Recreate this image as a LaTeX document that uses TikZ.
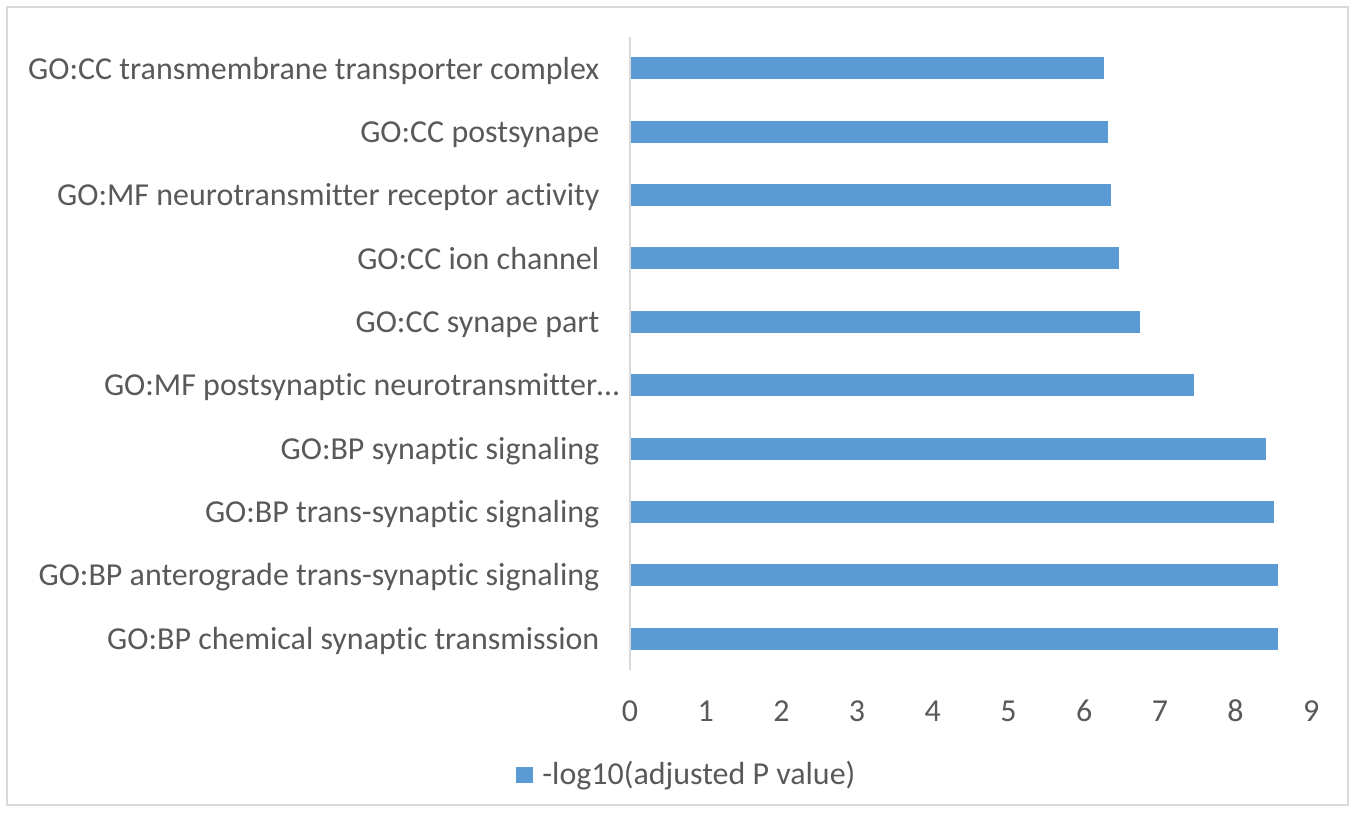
\documentclass[tikz,border=0pt]{standalone}
\usepackage{fontspec}
\setmainfont[Ligatures={NoCommon}]{Carlito}
\definecolor{barblue}{HTML}{5B9BD5}
\definecolor{labelgray}{HTML}{595959}
\definecolor{linegray}{HTML}{D9D9D9}

\begin{document}
\begin{tikzpicture}[x=0.1mm, y=-0.1mm,
        every node/.style={text=labelgray, inner sep=0pt, font=\fontsize{9.1}{11}\selectfont},
        golabel/.style={anchor=base east},
        ticklabel/.style={anchor=base},
        gobar/.style={fill=barblue}]
            \useasboundingbox (0,0) rectangle (1354,812);
            \draw[linegray, line width=0.6pt] (7,7) rectangle (1348,805);

            % category labels
            \node[golabel] (l1) at (600, 79.0) {GO:CC transmembrane transporter complex};
            \node[golabel] (l2) at (600, 142.4) {GO:CC postsynape};
            \node[golabel] (l3) at (600, 205.7) {GO:MF neurotransmitter receptor activity};
            \node[golabel] (l4) at (600, 269.1) {GO:CC ion channel};
            \node[golabel] (l5) at (600, 332.4) {GO:CC synape part};
            \node[golabel] (l6) at (620, 395.8) {GO:MF postsynaptic neurotransmitter…};
            \node[golabel] (l7) at (600, 459.2) {GO:BP synaptic signaling};
            \node[golabel] (l8) at (600, 522.5) {GO:BP trans-synaptic signaling};
            \node[golabel] (l9) at (600, 585.9) {GO:BP anterograde trans-synaptic signaling};
            \node[golabel] (l10) at (600, 649.2) {GO:BP chemical synaptic transmission};

            % bars
            \fill[gobar] (631, 57.3) rectangle (1104, 79.3);
            \fill[gobar] (631, 120.7) rectangle (1108, 142.7);
            \fill[gobar] (631, 184.0) rectangle (1111, 206.0);
            \fill[gobar] (631, 247.4) rectangle (1118.7, 269.4);
            \fill[gobar] (631, 310.7) rectangle (1140, 332.7);
            \fill[gobar] (631, 374.1) rectangle (1193.7, 396.1);
            \fill[gobar] (631, 437.5) rectangle (1266.3, 459.5);
            \fill[gobar] (631, 500.8) rectangle (1274, 522.8);
            \fill[gobar] (631, 564.2) rectangle (1277.7, 586.2);
            \fill[gobar] (631, 627.5) rectangle (1277.7, 649.5);

            % axis
            \coordinate (axtop) at (630, 37);
            \coordinate (axbot) at (630, 670);
            \draw[linegray, line width=0.6pt] (axtop) -- (axbot);

            \node[ticklabel] (t0) at (630, 721.7) {0};
            \node[ticklabel] (t1) at (705.7, 721.7) {1};
            \node[ticklabel] (t2) at (781.4, 721.7) {2};
            \node[ticklabel] (t3) at (857.1, 721.7) {3};
            \node[ticklabel] (t4) at (932.8, 721.7) {4};
            \node[ticklabel] (t5) at (1008.5, 721.7) {5};
            \node[ticklabel] (t6) at (1084.2, 721.7) {6};
            \node[ticklabel] (t7) at (1159.9, 721.7) {7};
            \node[ticklabel] (t8) at (1235.6, 721.7) {8};
            \node[ticklabel] (t9) at (1311.3, 721.7) {9};

            % legend
            \fill[gobar] (516, 767) rectangle (533, 783);
            \node[anchor=base west] (leg) at (541.7, 784) {-log10(adjusted P value)};
        \end{tikzpicture}
\end{document}
